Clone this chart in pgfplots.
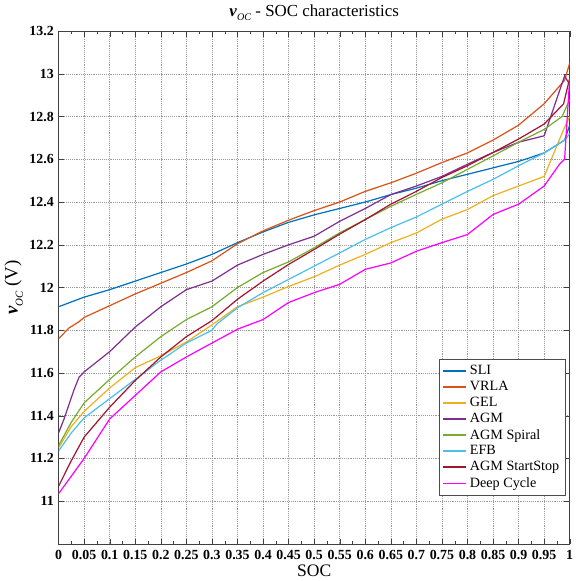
\documentclass[border=0pt]{standalone}
\usepackage{pgfplots}
\pgfplotsset{compat=1.18}
\usepackage{fontspec}
\setmainfont{Liberation Serif}
\definecolor{cSLI}{rgb}{0,0.447,0.741}
\definecolor{cVRLA}{rgb}{0.85,0.325,0.098}
\definecolor{cGEL}{rgb}{0.929,0.694,0.125}
\definecolor{cAGM}{rgb}{0.494,0.184,0.556}
\definecolor{cSpiral}{rgb}{0.466,0.674,0.188}
\definecolor{cEFB}{rgb}{0.301,0.745,0.933}
\definecolor{cSS}{rgb}{0.635,0.078,0.184}
\definecolor{cDeep}{rgb}{1,0,1}
\begin{document}
\begin{tikzpicture}
\begin{axis}[
  name=main,
  scale only axis,
  width=378.75pt, height=380pt,
  xmin=0, xmax=1, ymin=10.8, ymax=13.2,
  xtick={0,0.05,0.1,0.15,0.2,0.25,0.3,0.35,0.4,0.45,0.5,0.55,0.6,0.65,0.7,0.75,0.8,0.85,0.9,0.95,1},
  xticklabels={0,0.05,0.1,0.15,0.2,0.25,0.3,0.35,0.4,0.45,0.5,0.55,0.6,0.65,0.7,0.75,0.8,0.85,0.9,0.95,1},
  ytick={11,11.2,11.4,11.6,11.8,12,12.2,12.4,12.6,12.8,13,13.2},
  yticklabels={11,11.2,11.4,11.6,11.8,12,12.2,12.4,12.6,12.8,13,13.2},
  minor x tick num=1,
  tick pos=both, tick align=inside,
  major tick length=4pt, minor tick length=2.5pt,
  tick style={black!75},
  axis line style={black!75},
  grid=major,
  major grid style={densely dotted, black!40},
  ticklabel style={font=\fontsize{10.3}{12}\selectfont\bfseries},
  xticklabel style={yshift=-1pt},
  title={\textbf{\textit{v}}\raisebox{-0.6ex}{\fontsize{7.5}{8}\selectfont\textit{OC}} - SOC characteristics},
  title style={font=\fontsize{12.5}{14}\selectfont, yshift=-2pt},
  xlabel={SOC},
  xlabel style={font=\fontsize{13}{15}\selectfont, yshift=3pt},
  ylabel={\textbf{\textit{v}}\raisebox{-0.6ex}{\fontsize{8}{9}\selectfont\textit{OC}} (V)},
  ylabel style={font=\fontsize{14}{16}\selectfont, yshift=-2pt},
  legend style={at={(0.992,0.094)}, anchor=south east, font=\fontsize{10.5}{12}\selectfont, draw=black!70, row sep=-0.6pt, inner sep=2.5pt},
  legend cell align=left,
  legend image post style={sharp plot, line width=1.2pt},
  every axis plot/.append style={line width=0.9pt},
]
\addplot[cSLI] coordinates {(0,11.91)(0.05,11.955)(0.1,11.99)(0.15,12.03)(0.2,12.07)(0.25,12.11)(0.3,12.155)(0.35,12.21)(0.4,12.26)(0.45,12.305)(0.5,12.34)(0.55,12.37)(0.6,12.40)(0.65,12.435)(0.7,12.465)(0.75,12.50)(0.8,12.53)(0.85,12.56)(0.9,12.59)(0.95,12.63)(0.99,12.69)(1,12.76)};
\addlegendentry{SLI}
\addplot[cVRLA] coordinates {(0,11.76)(0.02,11.81)(0.04,11.84)(0.05,11.86)(0.1,11.915)(0.15,11.97)(0.2,12.02)(0.25,12.07)(0.3,12.125)(0.35,12.205)(0.4,12.265)(0.45,12.315)(0.5,12.36)(0.55,12.40)(0.6,12.45)(0.65,12.49)(0.7,12.535)(0.75,12.585)(0.8,12.63)(0.85,12.69)(0.9,12.76)(0.95,12.86)(0.99,12.97)(1,13.05)};
\addlegendentry{VRLA}
\addplot[cGEL] coordinates {(0,11.25)(0.025,11.35)(0.05,11.42)(0.1,11.53)(0.15,11.625)(0.2,11.68)(0.25,11.745)(0.3,11.825)(0.35,11.91)(0.4,11.955)(0.45,12.005)(0.5,12.05)(0.55,12.105)(0.6,12.155)(0.65,12.21)(0.7,12.255)(0.75,12.32)(0.8,12.365)(0.85,12.43)(0.9,12.475)(0.95,12.52)(0.99,12.75)(1,12.80)};
\addlegendentry{GEL}
\addplot[cAGM] coordinates {(0,11.32)(0.01,11.38)(0.03,11.52)(0.04,11.58)(0.05,11.605)(0.1,11.70)(0.15,11.815)(0.2,11.91)(0.25,11.99)(0.3,12.03)(0.35,12.105)(0.4,12.155)(0.45,12.20)(0.5,12.24)(0.55,12.31)(0.6,12.37)(0.65,12.435)(0.7,12.475)(0.75,12.52)(0.8,12.577)(0.85,12.632)(0.9,12.68)(0.95,12.71)(0.99,12.99)(1,12.95)};
\addlegendentry{AGM}
\addplot[cSpiral] coordinates {(0,11.26)(0.025,11.37)(0.05,11.46)(0.1,11.57)(0.15,11.675)(0.2,11.77)(0.25,11.85)(0.3,11.91)(0.35,12.0)(0.4,12.07)(0.45,12.12)(0.5,12.186)(0.55,12.256)(0.6,12.318)(0.65,12.38)(0.7,12.436)(0.75,12.49)(0.8,12.553)(0.85,12.616)(0.9,12.68)(0.95,12.74)(0.985,12.80)(1,12.88)};
\addlegendentry{AGM Spiral}
\addplot[cEFB] coordinates {(0,11.235)(0.025,11.32)(0.05,11.39)(0.1,11.48)(0.15,11.57)(0.2,11.66)(0.25,11.74)(0.3,11.80)(0.31,11.83)(0.35,11.905)(0.4,11.976)(0.45,12.038)(0.5,12.10)(0.55,12.162)(0.6,12.225)(0.65,12.28)(0.7,12.33)(0.75,12.39)(0.8,12.45)(0.85,12.506)(0.9,12.57)(0.95,12.63)(0.99,12.69)(1,12.72)};
\addlegendentry{EFB}
\addplot[cSS] coordinates {(0,11.07)(0.025,11.19)(0.05,11.30)(0.1,11.44)(0.15,11.565)(0.2,11.675)(0.25,11.77)(0.3,11.845)(0.35,11.945)(0.4,12.03)(0.45,12.108)(0.5,12.178)(0.55,12.25)(0.6,12.318)(0.65,12.39)(0.7,12.45)(0.75,12.515)(0.8,12.57)(0.85,12.632)(0.9,12.695)(0.95,12.765)(0.988,12.86)(1,12.98)};
\addlegendentry{AGM StartStop}
\addplot[cDeep] coordinates {(0,11.035)(0.05,11.20)(0.1,11.385)(0.15,11.495)(0.2,11.605)(0.25,11.675)(0.3,11.74)(0.35,11.805)(0.4,11.85)(0.45,11.93)(0.5,11.976)(0.55,12.015)(0.6,12.085)(0.65,12.115)(0.7,12.17)(0.75,12.21)(0.8,12.248)(0.85,12.342)(0.9,12.39)(0.95,12.475)(0.98,12.577)(0.99,12.60)(1,12.98)};
\addlegendentry{Deep Cycle}
\end{axis}
\pgfresetboundingbox
\path (main.outer south west);
\path (main.outer north west);
\path ([xshift=4pt]main.south east);
\end{tikzpicture}
\end{document}
